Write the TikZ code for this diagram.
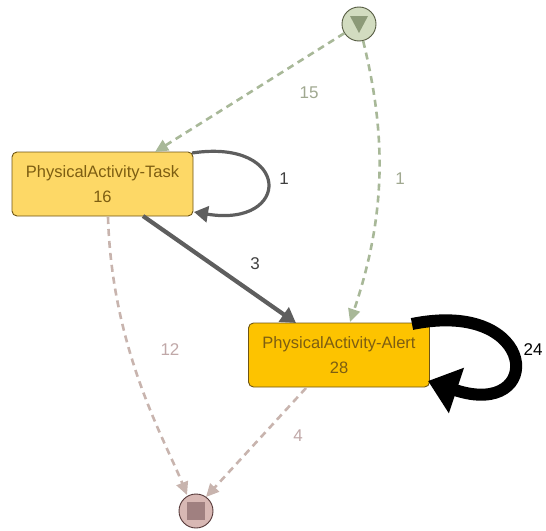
\documentclass[tikz,border=0pt]{standalone}
\usepackage{fontspec}
\setmainfont{Liberation Sans}
\usetikzlibrary{arrows.meta}
\definecolor{taskfill}{HTML}{FDD866}
\definecolor{alertfill}{HTML}{FDC300}
\definecolor{boxline}{HTML}{6E5514}
\definecolor{boxtext}{HTML}{7D5E12}
\definecolor{startfill}{HTML}{D2DCC0}
\definecolor{startline}{HTML}{545A40}
\definecolor{startmark}{HTML}{8C9A78}
\definecolor{startedge}{HTML}{A8B898}
\definecolor{startlbl}{HTML}{A0A890}
\definecolor{endfill}{HTML}{D8B8B4}
\definecolor{endline}{HTML}{553838}
\definecolor{endmark}{HTML}{A08080}
\definecolor{endedge}{HTML}{C8B4AE}
\definecolor{endlbl}{HTML}{C0A8A8}
\definecolor{flowgray}{HTML}{5E5E5E}
\tikzset{
  activity/.style={draw=boxline, line width=0.9pt, rounded corners=5pt,
    minimum width=181pt, minimum height=64pt, align=center,
    text=boxtext, font=\fontsize{16.5}{25}\selectfont},
  endpoint/.style={circle, line width=0.9pt, minimum size=34pt, inner sep=0pt},
  dashedflow/.style={dash pattern=on 7pt off 5pt, line width=2.6pt,
    -{Triangle[length=13pt,width=12pt]}},
  lbl/.style={font=\fontsize{17}{19}\selectfont}
}
\begin{document}
\begin{tikzpicture}[x=1pt,y=-1pt]
\useasboundingbox (0,0) rectangle (546,530);

% nodes
\node[activity, fill=taskfill] (task) at (102.5,184) {PhysicalActivity-Task\\16};
\node[activity, fill=alertfill] (alert) at (339,355) {PhysicalActivity-Alert\\28};
\node[endpoint, draw=startline, fill=startfill] (start) at (359,24) {};
\fill[startmark] (350,16) -- (368,16) -- (359,33) -- cycle;
\node[endpoint, draw=endline, fill=endfill] (end) at (196,511) {};
\fill[endmark] (187,502) rectangle (205,520);

% connectors from the start event
\draw[dashedflow, draw=startedge] (start) -- (155,152);
\draw[dashedflow, draw=startedge]
  (start) .. controls (385,130) and (388,210) .. (350,322);
\node[lbl, text=startlbl] (l15) at (309,93) {15};
\node[lbl, text=startlbl] (l1b) at (400,179) {1};

% task loop and task to alert
\draw[flowgray, line width=3.2pt, -{Triangle[length=14pt,width=16pt]}]
  (192,153) .. controls (292,138) and (292,228) .. (194,212);
\node[lbl, text=black!75] (l1a) at (284,179) {1};
\draw[flowgray, line width=4.2pt, -{Triangle[length=15pt,width=17pt]}]
  (143,216) -- (296,323);
\node[lbl, text=black!75] (l3) at (255,264) {3};

% alert loop
\draw[black, line width=12pt, -{Triangle[length=30pt,width=46pt]}]
  (412,324) .. controls (540,298) and (545,420) .. (428,381);
\node[lbl, text=black] (l24) at (533,350) {24};

% connectors to the end event
\draw[dashedflow, draw=endedge]
  (108,217) .. controls (112,350) and (165,440) .. (187,495);
\node[lbl, text=endlbl] (l12) at (170,350) {12};
\draw[dashedflow, draw=endedge] (306,388) -- (206,497);
\node[lbl, text=endlbl] (l4) at (298,436) {4};
\end{tikzpicture}
\end{document}
